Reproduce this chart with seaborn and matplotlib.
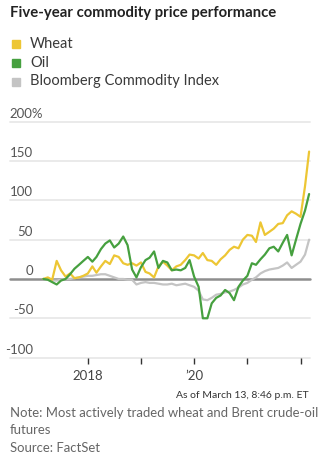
import numpy as np
import pandas as pd
import matplotlib
matplotlib.use("Agg")
import matplotlib.pyplot as plt
import matplotlib.dates as mdates
from matplotlib.patches import Rectangle
import seaborn as sns

# ---------------- data ----------------
dates = pd.date_range("2017-03-01", periods=61, freq="MS")
wheat = [0, 2, -1, 23, 11, 3, 7, 1, 2, 4, 7, 16, 8, 16, 23, 19, 30, 28, 20, 18,
         20, 17, 21, 9, 7, 2, 16, 22, 17, 11, 16, 18, 24, 31, 30, 26, 33, 24, 23, 18,
         25, 30, 37, 41, 39, 50, 56, 55, 47, 72, 56, 60, 64, 70, 71, 81, 86, 83, 79, 118,
         162]
oil = [0, -1, -4, -7, -2, 0, 6, 13, 18, 23, 28, 22, 28, 38, 45, 49, 40, 45, 54, 43,
       12, 2, 15, 24, 27, 35, 14, 23, 21, 11, 12, 11, 14, 24, 3, -10, -50, -50, -31, -24,
       -21, -14, -18, -27, -10, -2, 4, 20, 18, 25, 31, 39, 41, 35, 46, 56, 30, 50, 70, 87,
       108]
bcom = [0, -1, -2, -2, -1, 0, 0, 1, 2, 3, 4, 4, 5, 6, 6, 4, 2, 0, 0, -1,
        -1, -7, -5, -4, -5, -5, -6, -7, -7, -6, -8, -7, -6, -8, -10, -15, -26, -27, -24, -20,
        -19, -17, -16, -14, -11, -7, -5, -1, 2, 7, 10, 12, 13, 14, 17, 21, 14, 18, 22, 31,
        50]
series_names = ["Wheat", "Oil", "Bloomberg Commodity Index"]
series_colors = ["#EDC634", "#46A03F", "#C4C4C4"]
y_ticks = [-100, -50, 0, 50, 100, 150, 200]
y_tick_labels = ["-100", "-50", "0", "50", "100", "150", "200%"]
x_tick_dates = ["2018-01-01", "2019-01-01", "2020-01-01", "2021-01-01", "2022-01-01"]
x_tick_labels = ["2018", "", "\u201920", "", ""]
title = "Five-year commodity price performance"
timestamp = "As of March 13, 8:46 p.m. ET"
note_lines = ["Note: Most actively traded wheat and Brent crude-oil", "futures", "Source: FactSet"]

df = pd.DataFrame({
    "date": np.tile(dates, 3),
    "value": wheat + oil + bcom,
    "series": np.repeat(series_names, len(dates)),
})

# ---------------- figure ----------------
sns.set_theme(style="white")
FONT = ["Lato", "DejaVu Sans"]
plt.rcParams["font.family"] = FONT

W, H = 322, 463
fig = plt.figure(figsize=(W / 100, H / 100), dpi=100)
ax_left, ax_right, ax_top, ax_bot = 10, 310, 121.7, 357.6
ax = fig.add_axes([ax_left / W, 1 - ax_bot / H, (ax_right - ax_left) / W, (ax_bot - ax_top) / H])

# gridlines
for v in y_ticks:
    if v == 0:
        continue
    ax.axhline(v, color="#E8E8E8", lw=1.3, zorder=0, clip_on=False)
ax.axhline(0, color="#8E8E8E", lw=1.8, zorder=1, clip_on=False)

palette = dict(zip(series_names, series_colors))
sns.lineplot(data=df, x="date", y="value", hue="series",
             hue_order=["Bloomberg Commodity Index", "Wheat", "Oil"],
             palette=palette, linewidth=1.6, ax=ax, legend=False, zorder=3)
for ln in ax.lines:
    ln.set_clip_on(False)

# x limits derived from pixel layout
x0 = mdates.date2num(dates[0])
x1 = mdates.date2num(dates[-1])
px_first, px_last = 43.3, 309.1
dpp = (x1 - x0) / (px_last - px_first)
ax.set_xlim(x0 - (px_first - ax_left) * dpp, x1 + (ax_right - px_last) * dpp)
ax.set_ylim(-100, 200)

for s in ax.spines.values():
    s.set_visible(False)
ax.set_xlabel("")
ax.set_ylabel("")
ax.set_yticks([])
ax.set_xticks(pd.to_datetime(x_tick_dates))
ax.set_xticklabels(x_tick_labels)
ax.tick_params(axis="x", bottom=True, length=4, width=1, color="#333333",
               direction="out", pad=5, labelsize=9.5, labelcolor="#444444")
for t in ax.get_xticklabels():
    t.set_fontfamily(FONT)

# y labels inside the plot, numbers right aligned, "%" hanging past the column
ytrans = ax.get_yaxis_transform()
lab_x = (33 - ax_left) / (ax_right - ax_left)
renderer = fig.canvas.get_renderer()
ref_text = None
for v, lab in zip(y_ticks[:-1], y_tick_labels[:-1]):
    t = ax.text(lab_x, v + 2.5, lab, transform=ytrans, ha="right", va="bottom",
                fontsize=9.5, color="#555555")
    if lab == "150":
        ref_text = t
bb = ref_text.get_window_extent(renderer=renderer)
x_left_ax = ax.transAxes.inverted().transform((bb.x0, 0))[0]
ax.text(x_left_ax, y_ticks[-1] + 2.5, y_tick_labels[-1], transform=ytrans, ha="left",
        va="bottom", fontsize=9.5, color="#555555")

# title
fig.text(10 / W, 1 - 13 / H, title, ha="left", va="center", fontsize=10.7,
         fontweight="bold", color="#222222")

# legend
leg_y = [44, 62.7, 81.5]
for name, col, yc in zip(series_names, series_colors, leg_y):
    fig.patches.append(Rectangle((11.5 / W, 1 - (yc + 4) / H), 8 / W, 8 / H,
                                 transform=fig.transFigure, color=col, figure=fig))
    fig.text(30 / W, 1 - yc / H, name, ha="left", va="center", fontsize=10.5,
             color="#3A3A3A")

# footer
fig.text(309 / W, 1 - 395 / H, timestamp, ha="right", va="center",
         fontsize=7.5, color="#333333")
for i, line in enumerate(note_lines):
    fig.text(10 / W, 1 - (413 + i * 17.5) / H, line, ha="left", va="center",
             fontsize=9.45, color="#666666")

fig.savefig("out.png", dpi=100)
